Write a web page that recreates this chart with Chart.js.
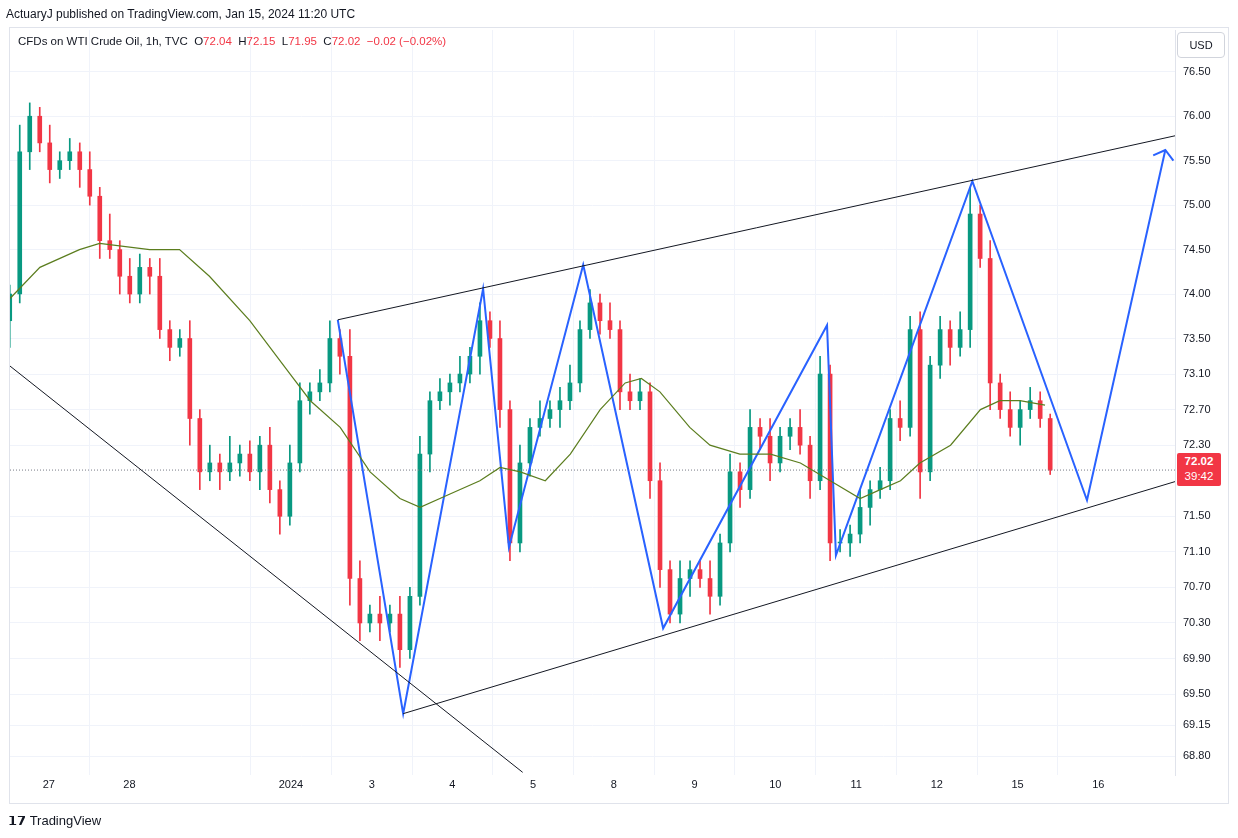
<!DOCTYPE html>
<html><head><meta charset="utf-8">
<script src="https://cdn.jsdelivr.net/npm/chart.js@4"></script>
<style>
body{margin:0;background:#fff;font-family:"Liberation Sans",Arial,sans-serif;}
#wrap{position:absolute;left:0;top:0;width:1238px;height:838px;}
.t{position:absolute;font-size:12px;color:#131722;white-space:nowrap}
</style></head><body>
<div id="wrap"><canvas id="c" width="1238" height="838"></canvas></div>
<div style="position:absolute;left:9px;top:27px;width:1218px;height:775px;border:1px solid #e0e3eb;pointer-events:none"></div>
<div class="t" style="left:6px;top:7px">ActuaryJ published on TradingView.com, Jan 15, 2024 11:20 UTC</div>
<div class="t" style="left:18px;top:35px;font-size:11.5px">CFDs on WTI Crude Oil, 1h, TVC&nbsp; O<span style="color:#f23645">72.04</span>&nbsp; H<span style="color:#f23645">72.15</span>&nbsp; L<span style="color:#f23645">71.95</span>&nbsp; C<span style="color:#f23645">72.02</span>&nbsp; <span style="color:#f23645">−0.02 (−0.02%)</span></div>
<div class="t" style="left:1177px;top:32px;width:46px;height:24px;border:1px solid #d1d4dc;border-radius:4px;text-align:center;line-height:24px;font-size:11px">USD</div>
<div class="t" style="left:1177px;top:453px;width:44px;height:32px;background:#f23645;color:#fff;font-size:11.5px;text-align:center;line-height:15px;padding-top:1px;border-radius:2px"><b>72.02</b><br>39:42</div>
<div class="t" style="left:8px;top:813px;font-size:13px;font-weight:bold;color:#131722">𝟭𝟳 <span style="font-weight:normal">TradingView</span></div>
<script>
const dayLabels=['27','28','','2024','3','4','5','8','9','10','11','12','15','16'];
const yTicks=[76.5,76.0,75.5,75.0,74.5,74.0,73.5,73.1,72.7,72.3,71.5,71.1,70.7,70.3,69.9,69.5,69.15,68.8];
const closes=[74.0,75.6,76.0,75.7,75.4,75.5,75.6,75.4,75.1,74.6,74.5,74.2,74.0,74.3,74.2,73.6,73.4,73.5,72.6,72.0,72.1,72.0,72.1,72.2,72.0,72.3,71.8,71.5,72.1,72.8,72.9,73.0,73.5,73.3,70.8,70.3,70.4,70.3,70.4,70.0,70.6,72.2,72.8,72.9,73.0,73.1,73.3,73.7,73.5,72.7,71.2,72.1,72.5,72.6,72.7,72.8,73.0,73.6,73.9,73.7,73.6,72.9,72.8,72.9,71.9,70.9,70.4,70.8,70.9,70.8,70.6,71.2,72.0,71.8,72.5,72.4,72.1,72.4,72.5,72.3,71.9,73.1,71.2,71.2,71.3,71.6,71.8,71.9,72.6,72.5,73.6,72.0,73.2,73.6,73.4,73.6,74.9,74.4,73.0,72.7,72.5,72.7,72.8,72.6,72.02];
const wickUp=[.1,.3,.15,.1,.2,.1,.15,.1,.2,.1,.3,.1,.2,.15,.1,.2,.1,.1,.2,.1,.2,.1,.3,.1,.15,.1,.2,.1,.2,.2,.1,.15,.2,.1,.3,.2,.1,.2,.1,.2,.1,.2,.1,.15,.1,.2,.1,.2,.1,.2,.1,.2,.1,.2,.1,.15,.2,.1,.15,.1,.2,.1,.2,.15,.1,.2,.1,.2,.1,.1,.2,.1,.2,.1,.2,.1,.2,.1,.1,.2,.1,.2,.1,.15,.1,.2,.1,.15,.1,.2,.15,.2,.1,.15,.1,.2,.3,.1,.2,.1,.2,.1,.15,.1,.05];
const wickDn=[.3,.1,.2,.1,.15,.1,.1,.2,.1,.2,.1,.2,.1,.1,.2,.1,.15,.1,.3,.2,.1,.2,.1,.15,.1,.2,.15,.2,.1,.1,.15,.1,.1,.2,.3,.2,.1,.2,.1,.2,.1,.1,.2,.1,.15,.1,.1,.2,.1,.2,.2,.1,.15,.1,.1,.2,.1,.1,.1,.15,.1,.2,.1,.1,.2,.2,.1,.1,.2,.1,.2,.1,.1,.2,.1,.15,.2,.1,.15,.1,.2,.1,.2,.1,.15,.1,.2,.1,.1,.15,.1,.3,.1,.15,.2,.1,.2,.1,.3,.1,.1,.2,.1,.1,.05];
const firstOpen=73.7;
const maX=[-0.48,-0.11,0.38,0.63,1.25,1.62,1.99,2.49,2.99,3.24,3.61,3.98,4.35,4.6,4.97,5.34,5.59,5.84,6.15,6.46,6.83,7.14,7.34,7.57,7.94,8.19,8.56,8.94,9.31,9.68,10.05,10.3,10.55,10.79,11.17,11.54,11.78,12.03,12.34];
const maY=[73.95,74.3,74.5,74.57,74.5,74.5,74.2,73.7,73.1,72.8,72.5,72.0,71.7,71.6,71.75,71.9,72.05,72.0,71.9,72.2,72.7,73.0,73.05,72.9,72.5,72.3,72.2,72.2,72.1,71.9,71.7,71.8,71.9,72.1,72.3,72.7,72.8,72.8,72.75];
const zigX=[3.58,4.39,5.38,5.70,6.62,7.61,9.64,9.75,11.44,12.86,13.83];
const zigY=[73.71,69.28,74.06,71.15,74.33,70.24,73.65,71.06,75.27,71.68,75.62];
const topLine=[[3.58,73.71],[13.95,75.78]];
const botLine=[[4.39,69.28],[13.95,71.89]];
const leftLine=[[-0.48,73.19],[5.87,68.62]];
const arrow=[[13.68,75.56],[13.83,75.62],[13.93,75.50]];
const lastPrice=72.02;

const bodies=[],wicks=[],cols=[];
closes.forEach((c,k)=>{
  const o=k?closes[k-1]:firstOpen;
  const t=(10+10*k-49)/80.7;
  bodies.push({x:t,y:[o,c===o?c+0.01:c]});
  wicks.push({x:t,y:[Math.min(o,c)-wickDn[k],Math.max(o,c)+wickUp[k]]});
  cols.push(c>=o?'#089981':'#f23645');
});
const pts=(xs,ys)=>xs.map((x,i)=>({x,y:ys[i]}));
const seg=a=>a.map(p=>({x:p[0],y:p[1]}));
const lineDs=(data,color,w)=>({type:'line',data,borderColor:color,borderWidth:w,pointRadius:0,fill:false,tension:0,order:0});

new Chart(document.getElementById('c'),{
 type:'bar',
 data:{datasets:[
  {data:wicks,backgroundColor:cols,barThickness:1,grouped:false,order:3},
  {data:bodies,backgroundColor:cols,barThickness:4,grouped:false,order:2},
  lineDs(pts(maX,maY),'#5b7d1e',1.2),
  lineDs(seg(topLine),'#131722',1),
  lineDs(seg(botLine),'#131722',1),
  lineDs(seg(leftLine),'#131722',1),
  lineDs(pts(zigX,zigY),'#2962ff',2),
  lineDs(seg(arrow),'#2962ff',2),
  Object.assign(lineDs(seg([[-0.48,lastPrice],[13.95,lastPrice]]),'#787b86',1),{borderDash:[1,2]})
 ]},
 options:{animation:false,responsive:false,
  layout:{padding:{top:30,left:10,right:10,bottom:38}},
  plugins:{legend:{display:false},tooltip:{enabled:false}},
  scales:{
   x:{type:'linear',min:-0.48,max:13.95,offset:false,
     afterBuildTicks:s=>{s.ticks=dayLabels.map((l,i)=>({value:i}))},
     afterFit:s=>{s.height=25},
     ticks:{autoSkip:false,maxRotation:0,color:'#131722',font:{size:11,family:'Liberation Sans'},
       callback:(v)=>dayLabels[v]},
     grid:{color:c=>dayLabels[c.index]?'#f0f3fa':'rgba(0,0,0,0)',drawTicks:false},border:{display:false}},
   y:{position:'right',min:68.59,max:76.97,
     afterBuildTicks:s=>{s.ticks=yTicks.map(v=>({value:v}))},
     afterFit:s=>{s.width=53},
     ticks:{color:'#131722',font:{size:11,family:'Liberation Sans'},padding:8,callback:v=>v.toFixed(2)},
     grid:{color:'#f0f3fa',drawTicks:false},border:{color:'#e0e3eb'}}
  }}
});
</script></body></html>
